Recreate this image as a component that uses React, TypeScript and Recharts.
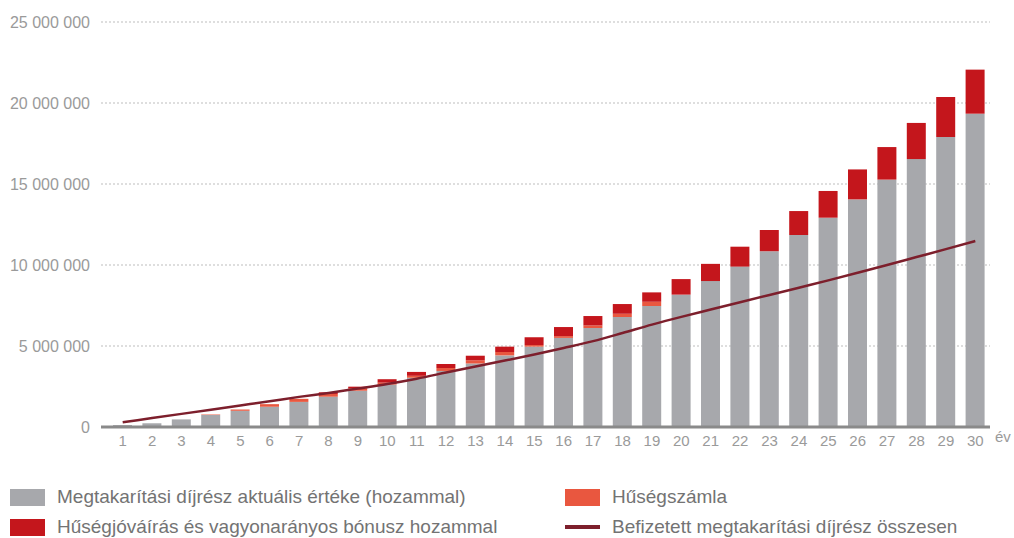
import React from 'react';
import { ComposedChart, Bar, Line, XAxis, YAxis, CartesianGrid } from 'recharts';

const years = ['1','2','3','4','5','6','7','8','9','10','11','12','13','14','15','16','17','18','19','20','21','22','23','24','25','26','27','28','29','30'];

const megtakaritas = [120000, 230000, 470000, 740000, 1000000, 1250000, 1550000, 1870000, 2240000, 2620000, 3040000, 3460000, 3920000, 4420000, 4960000, 5500000, 6110000, 6790000, 7470000, 8170000, 9010000, 9900000, 10850000, 11850000, 12920000, 14050000, 15270000, 16540000, 17900000, 19340000];

const husegszamla = [0, 0, 0, 30000, 80000, 160000, 190000, 170000, 150000, 120000, 120000, 180000, 200000, 210000, 100000, 110000, 160000, 200000, 260000, 0, 0, 0, 0, 0, 0, 0, 0, 0, 0, 0];

const bonusz = [0, 0, 0, 0, 0, 0, 0, 100000, 100000, 210000, 240000, 250000, 280000, 330000, 480000, 560000, 580000, 600000, 580000, 960000, 1060000, 1230000, 1310000, 1480000, 1650000, 1850000, 2010000, 2230000, 2470000, 2720000];

const befizetett = [290000, 550000, 810000, 1070000, 1330000, 1590000, 1860000, 2100000, 2370000, 2650000, 2980000, 3360000, 3740000, 4100000, 4480000, 4880000, 5300000, 5800000, 6320000, 6800000, 7250000, 7700000, 8150000, 8600000, 9050000, 9520000, 10000000, 10490000, 10980000, 11480000];

const yTicks = [0, 5000000, 10000000, 15000000, 20000000, 25000000];

const legendItems = [
  { label: 'Megtakarítási díjrész aktuális értéke (hozammal)', color: '#a7a8ac', kind: 'box', col: 0, row: 0 },
  { label: 'Hűségszámla', color: '#e9573f', kind: 'box', col: 1, row: 0 },
  { label: 'Hűségjóváírás és vagyonarányos bónusz hozammal', color: '#c4161c', kind: 'box', col: 0, row: 1 },
  { label: 'Befizetett megtakarítási díjrész összesen', color: '#7d1f2c', kind: 'line', col: 1, row: 1 },
];

const data = years.map((y, i) => ({
  year: y,
  megtakaritas: megtakaritas[i],
  husegszamla: husegszamla[i],
  bonusz: bonusz[i],
  befizetett: befizetett[i],
}));

const fmt = (v: number) => String(v).replace(/\B(?=(\d{3})+(?!\d))/g, ' ');

const FONT = '"Liberation Sans", Arial, Helvetica, sans-serif';

export default function App() {
  return (
    <div style={{ position: 'absolute', left: 0, top: 0, width: 1014, height: 538, background: '#fff', fontFamily: FONT }}>
      <ComposedChart
        width={1014}
        height={538}
        data={data}
        margin={{ top: 22, right: 24, bottom: 81, left: 0 }}
        barCategoryGap={0}
      >
        <CartesianGrid vertical={false} stroke="#d4d4d4" strokeDasharray="2 2" strokeWidth={1.5} />
        <XAxis
          dataKey="year"
          height={30}
          padding={{ left: 7, right: 0 }}
          axisLine={{ stroke: '#8a8a8a', strokeWidth: 3 }}
          tickLine={false}
          tickSize={0}
          tickMargin={8}
          interval={0}
          tick={{ fill: '#9a9a9a', fontSize: 15, fontFamily: FONT }}
        />
        <YAxis
          width={101}
          domain={[0, 25000000]}
          ticks={yTicks}
          tickFormatter={fmt}
          axisLine={false}
          tickLine={false}
          tickSize={0}
          tickMargin={11}
          tick={{ fill: '#9a9a9a', fontSize: 16, fontFamily: FONT }}
        />
        <Bar dataKey="megtakaritas" stackId="a" fill="#a7a8ac" barSize={19} isAnimationActive={false} />
        <Bar dataKey="husegszamla" stackId="a" fill="#e9573f" barSize={19} isAnimationActive={false} />
        <Bar dataKey="bonusz" stackId="a" fill="#c4161c" barSize={19} isAnimationActive={false} />
        <Line dataKey="befizetett" type="monotone" stroke="#7d1f2c" strokeWidth={2.5} dot={false} activeDot={false} isAnimationActive={false} />
      </ComposedChart>
      <div style={{ position: 'absolute', left: 995, top: 428, fontSize: 15, color: '#9a9a9a' }}>év</div>
      {legendItems.map((it) => {
        const left = it.col === 0 ? 10 : 565;
        const top = it.row === 0 ? 487 : 517;
        return (
          <div key={it.label} style={{ position: 'absolute', left, top, height: 20, display: 'flex', alignItems: 'center', whiteSpace: 'nowrap' }}>
            {it.kind === 'box' ? (
              <div style={{ width: 35, height: 17, background: it.color }} />
            ) : (
              <div style={{ width: 35, height: 17, display: 'flex', alignItems: 'center' }}>
                <div style={{ width: 35, height: 4, background: it.color }} />
              </div>
            )}
            <span style={{ marginLeft: 12, fontSize: 19, color: '#737373', lineHeight: '20px' }}>{it.label}</span>
          </div>
        );
      })}
    </div>
  );
}
